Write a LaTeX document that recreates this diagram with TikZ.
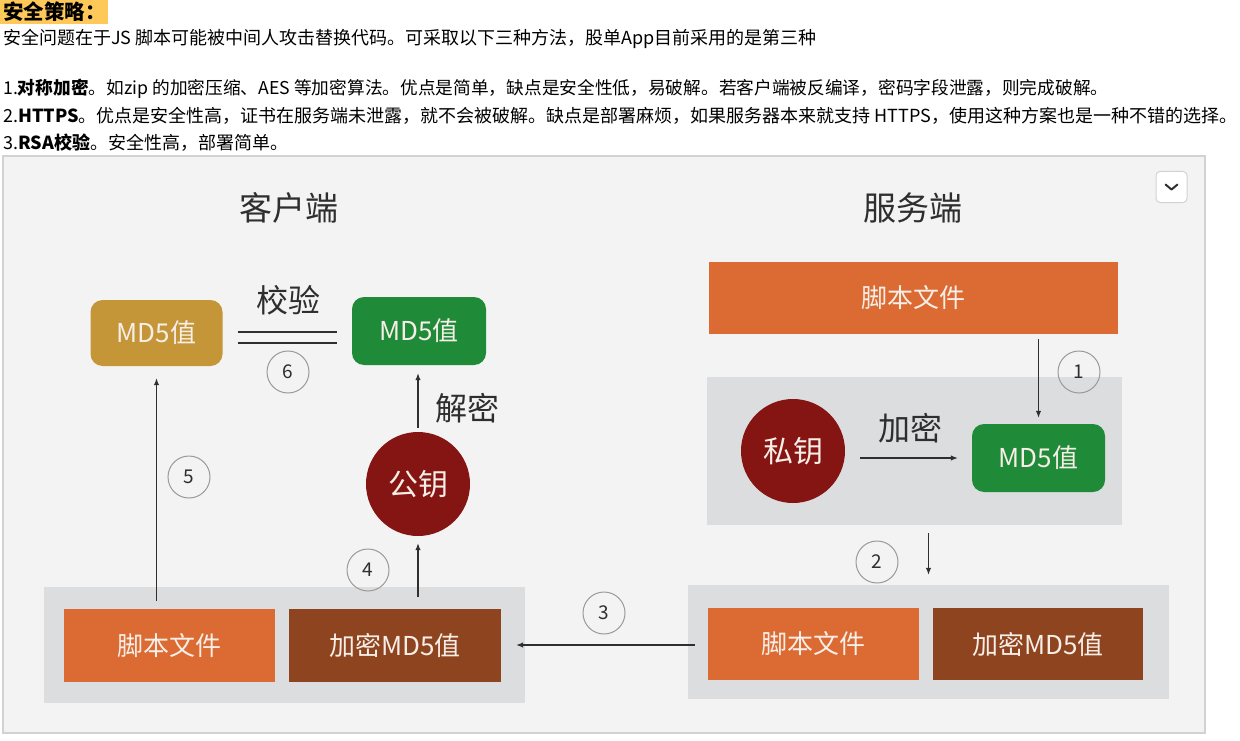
\documentclass[tikz,border=0pt]{standalone}
\usepackage{fontspec}
\setmainfont{Noto Sans CJK SC}
\usetikzlibrary{arrows.meta,calc}
\definecolor{hilite}{HTML}{FFC95A}
\definecolor{panelbg}{HTML}{F3F3F3}
\definecolor{panelline}{HTML}{D2D2D2}
\definecolor{contgray}{HTML}{DCDDDF}
\definecolor{orangebox}{HTML}{DC6B33}
\definecolor{brownbox}{HTML}{8E451F}
\definecolor{goldbox}{HTML}{C59638}
\definecolor{greenbox}{HTML}{1F8A38}
\definecolor{redkey}{HTML}{851512}
\definecolor{boxtext}{HTML}{F7EEE8}
\definecolor{numgray}{HTML}{9A9A9A}
\definecolor{darktext}{HTML}{2E2E2E}
\definecolor{arrgray}{HTML}{2F2F2F}
\begin{document}
\begin{tikzpicture}[x=1pt,y=-1pt,
  box/.style={rectangle, inner sep=0pt, text=boxtext, font=\fontsize{26}{26}\selectfont},
  keycircle/.style={circle, fill=redkey, inner sep=0pt, minimum size=104pt, text=boxtext, font=\fontsize{30}{30}\selectfont},
  num/.style={circle, draw=numgray, line width=1pt, minimum size=42pt, inner sep=0pt, font=\fontsize{19}{19}\selectfont, text=darktext},
  arr/.style={-{Latex[length=7pt,width=5.5pt]}, line width=1.2pt, draw=arrgray},
  lbl/.style={inner sep=0pt, font=\fontsize{32}{32}\selectfont, text=darktext},
  head/.style={inner sep=0pt, font=\fontsize{33}{33}\selectfont, text=darktext},
  cont/.style={rectangle, fill=contgray, inner sep=0pt},
  txt/.style={anchor=west, inner sep=0pt, font=\fontsize{18}{18}\selectfont, text=black}
]
\useasboundingbox (0,0) rectangle (1240,741);
\fill[white] (0,0) rectangle (1240,741);

% ---- top text ----
\fill[hilite] (0,0) rectangle (108,24);
\node[txt, font=\fontsize{20.5}{20.5}\selectfont\bfseries] (title) at (3,12) {安全策略：};
\node[txt] (intro) at (3,39) {安全问题在于JS 脚本可能被中间人攻击替换代码。可采取以下三种方法，股单App目前采用的是第三种};
\node[txt, font=\fontsize{17.7}{17.7}\selectfont] (item1) at (3,89) {1.\textbf{对称加密}。如zip 的加密压缩、AES 等加密算法。优点是简单，缺点是安全性低，易破解。若客户端被反编译，密码字段泄露，则完成破解。};
\node[txt] (item2) at (3,116) {2.\textbf{HTTPS}。优点是安全性高，证书在服务端未泄露，就不会被破解。缺点是部署麻烦，如果服务器本来就支持 HTTPS，使用这种方案也是一种不错的选择。};
\node[txt] (item3) at (3,143) {3.\textbf{RSA校验}。安全性高，部署简单。};

% ---- panel ----
\draw[panelline, fill=panelbg, line width=1.5pt] (3,156) rectangle (1205,733);
\node[draw=panelline, fill=white, rounded corners=4pt, minimum size=31pt, inner sep=0pt, line width=1pt] (menu) at (1171.5,187) {};
\draw[line width=2pt, darktext, line cap=round, line join=round] ($(menu.center)+(-6,-2.5)$) -- ($(menu.center)+(0,2.5)$) -- ($(menu.center)+(6,-2.5)$);

\node[head] (client) at (289,208) {客户端};
\node[head] (server) at (913,208) {服务端};

% ---- containers ----
\node[cont, minimum width=481pt, minimum height=116pt] (ccont) at (284.5,645) {};
\node[cont, minimum width=415pt, minimum height=148pt] (scont1) at (914.5,451) {};
\node[cont, minimum width=481pt, minimum height=114pt] (scont2) at (928.5,642) {};

% ---- client side ----
\node[box, fill=goldbox, rounded corners=12pt, minimum width=132pt, minimum height=66pt] (cmd5) at (156.5,333) {MD5值};
\node[box, fill=greenbox, rounded corners=12pt, minimum width=134pt, minimum height=68pt] (cgreen) at (419,331) {MD5值};
\node[keycircle] (cpub) at (418,484) {公钥};
\node[box, fill=orangebox, minimum width=211pt, minimum height=73pt] (cscript) at (169.5,645.5) {脚本文件};
\node[box, fill=brownbox, minimum width=212pt, minimum height=73pt] (cenc) at (395,645.5) {加密MD5值};

% ---- server side ----
\node[box, fill=orangebox, minimum width=409pt, minimum height=72pt] (sscript) at (913.5,298) {脚本文件};
\node[keycircle] (spriv) at (793,451) {私钥};
\node[box, fill=greenbox, rounded corners=12pt, minimum width=133pt, minimum height=68pt] (sgreen) at (1038.5,458) {MD5值};
\node[box, fill=orangebox, minimum width=211pt, minimum height=72pt] (sscript2) at (813.5,644) {脚本文件};
\node[box, fill=brownbox, minimum width=210pt, minimum height=72pt] (senc2) at (1038,644) {加密MD5值};

% ---- labels ----
\node[lbl] (verify) at (288,300) {校验};
\node[lbl] (decrypt) at (467,408) {解密};
\node[lbl] (encrypt) at (910,428) {加密};

% ---- step numbers ----
\node[num] (n1) at (1079,372) {1};
\node[num] (n2) at (877,562) {2};
\node[num] (n3) at (604,613) {3};
\node[num] (n4) at (368,570) {4};
\node[num] (n5) at (189,477) {5};
\node[num] (n6) at (288,372) {6};

% ---- connectors ----
\draw[arr, shorten <=5pt, shorten >=6pt] (sscript.south -| sgreen.north) -- (sgreen.north);
\draw[arr, shorten <=15pt, shorten >=14pt] (spriv.east |- sgreen.west) -- (sgreen.west);
\draw[arr, shorten <=8pt, shorten >=10pt] (scont1.south -| scont2.north) -- (scont2.north);
\draw[arr, shorten <=-7pt, shorten >=-9pt] (scont2.west |- ccont.east) -- (ccont.east);
\draw[arr, shorten <=12pt, shorten >=7pt] (cenc.north -| cpub.south) -- (cpub.south);
\draw[arr, shorten <=4pt, shorten >=8pt] (cpub.north) -- (cgreen.south -| cpub.north);
\draw[arr, shorten <=8pt, shorten >=12pt] (cscript.north -| cmd5.south) -- (cmd5.south);
\draw[line width=1.2pt, arrgray, shorten <=15pt, shorten >=15pt] ([yshift=1pt]cmd5.east) -- ([yshift=1pt]cmd5.east -| cgreen.west);
\draw[line width=1.2pt, arrgray, shorten <=15pt, shorten >=15pt] ([yshift=-10pt]cmd5.east) -- ([yshift=-10pt]cmd5.east -| cgreen.west);
\end{tikzpicture}
\end{document}
